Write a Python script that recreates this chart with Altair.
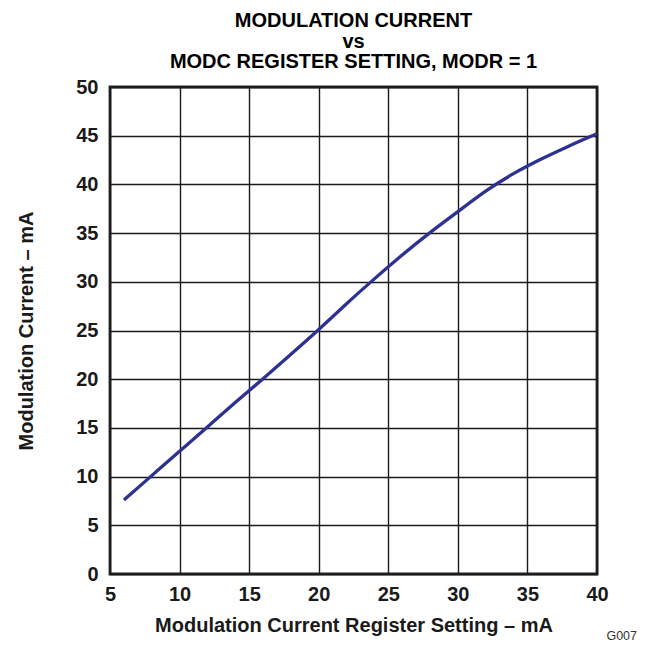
import altair as alt
import pandas as pd

# Data
register_setting = [6, 8, 10, 12, 14, 16, 18, 20, 22, 24, 26, 28, 30, 32, 34, 36, 38, 40]
modulation_current = [7.6, 10.1, 12.6, 15.1, 17.6, 20.05, 22.55, 25.1, 27.75, 30.3,
                      32.75, 35.05, 37.2, 39.3, 41.1, 42.6, 43.95, 45.2]

x_ticks = [5, 10, 15, 20, 25, 30, 35, 40]
y_ticks = [0, 5, 10, 15, 20, 25, 30, 35, 40, 45, 50]

title_lines = ["MODULATION CURRENT", "vs", "MODC REGISTER SETTING, MODR = 1"]
x_title = "Modulation Current Register Setting – mA"
y_title = "Modulation Current – mA"
figure_id = "G007"

df = pd.DataFrame({"x": register_setting, "y": modulation_current})

FONT = "Liberation Sans"
W, H = 487, 487
FS = 20

line = alt.Chart(df).mark_line(color="#2e3192", strokeWidth=3.3, interpolate="natural").encode(
    x=alt.X("x:Q",
            scale=alt.Scale(domain=[5, 40], nice=False, zero=False),
            axis=alt.Axis(values=x_ticks, title=x_title, grid=True, ticks=False,
                          domain=False, labelPadding=10, labelFontSize=FS, labelFlush=False,
                          labelFont=FONT, labelFontWeight="bold", labelColor="#1a1a1a",
                          titleFont=FONT, titleFontSize=FS, titleFontWeight="bold",
                          titleColor="#1a1a1a", titleBaseline="alphabetic", titleY=57,
                          gridColor="#1a1a1a", gridWidth=1.4, gridOpacity=1)),
    y=alt.Y("y:Q",
            scale=alt.Scale(domain=[0, 50], nice=False),
            axis=alt.Axis(values=y_ticks, title=y_title, grid=True, ticks=False,
                          domain=False, labelPadding=12, labelFontSize=FS, labelFlush=False,
                          labelFont=FONT, labelFontWeight="bold", labelColor="#1a1a1a",
                          titleFont=FONT, titleFontSize=FS, titleFontWeight="bold",
                          titleColor="#1a1a1a", titleAngle=270, titleAlign="center",
                          titleBaseline="middle", titleX=-84, titleY=H / 2,
                          gridColor="#1a1a1a", gridWidth=1.4, gridOpacity=1)),
)

label = alt.Chart(pd.DataFrame({"t": [figure_id]})).mark_text(
    font=FONT, fontSize=12.5, color="#333333", align="right", baseline="alphabetic"
).encode(x=alt.value(W + 40), y=alt.value(H + 66), text="t:N")

chart = alt.layer(line, label).properties(
    width=W, height=H,
    title=alt.TitleParams(text=title_lines, font=FONT, fontSize=20, fontWeight="bold",
                          color="#000000", lineHeight=20.5, anchor="middle",
                          frame="group", offset=5),
    autosize=alt.AutoSizeParams(type="none"),
    padding={"left": 102, "top": 79, "right": 42, "bottom": 70},
).configure_view(stroke="#222222", strokeWidth=2.8)

chart.save("out.html", embed_options={"renderer": "svg", "actions": False})
